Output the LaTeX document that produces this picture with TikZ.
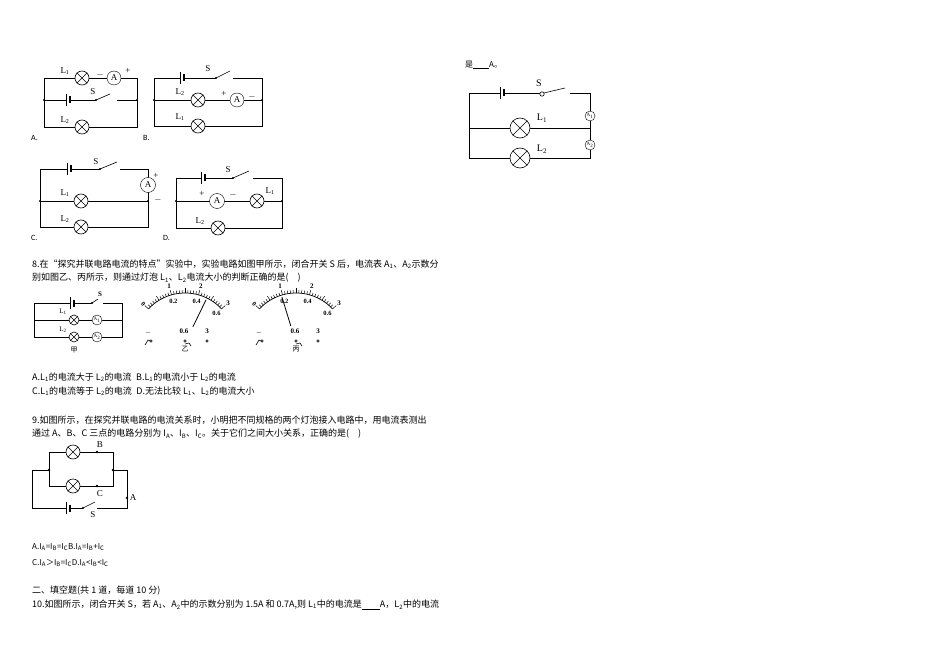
\documentclass[tikz,border=0pt]{standalone}
\usepackage{fontspec}
\setmainfont{Noto Sans CJK SC}
\newfontfamily\ser{Liberation Serif}
\newfontfamily\lat{Carlito}
\tikzset{
 lampst/.style={circle,draw,fill=white,minimum size=#1,inner sep=0pt,line width=0.6pt},
 amst/.style={circle,draw,fill=white,minimum size=#1,inner sep=0pt,font=\ser\fontsize{9}{9}\selectfont},
 wire/.style={line width=0.7pt},
 lab/.style={font=\ser\fontsize{9}{9}\selectfont,inner sep=0pt},
 txt/.style={anchor=west,inner sep=0pt,font=\fontsize{9}{10}\selectfont},
}
\newcommand\lampx[4]{\node[lampst=#4] (#1) at (#2,#3) {};
 \draw[line width=0.6pt] (#1.north west)--(#1.south east) (#1.north east)--(#1.south west);}
\newcommand\batt[3]{\fill[white] (#1-0.5,#2-6) rectangle (#1+4.5,#2+6);
 \draw[line width=0.6pt] (#1,#2-6)--(#1,#2+6); \draw[line width=1.4pt] (#1+4,#2-3.5)--(#1+4,#2+3.5);}
\newcommand\sw[6]{\fill[white] (#1,#2-1) rectangle (#3,#2+1);
 \draw[line width=0.6pt] (#1,#2)--(#4,#5); \fill (#1,#2) circle (1.1);}
\begin{document}
\begin{tikzpicture}[x=1pt,y=-1pt]
\useasboundingbox[fill=white] (0,0) rectangle (950,671);
% ===== Circuit A
\draw[wire] (44,78) rectangle (137,127) (44,100)--(137,100);
\foreach \p in {(44,100),(137,100)} \fill \p circle (1.2);
\batt{66}{100}{}
\sw{96}{100}{117}{110}{94}{}
\lampx{aL1}{82}{78}{14}\node[amst=14] (aA) at (114,78) {A};
\lampx{aL2}{82}{127}{14}
\node[lab] at (65,71) {L\textsubscript{1}};\node[lab] at (100,75) {$-$};\node[lab] at (128,71) {+};
\node[lab] at (93,92) {S};\node[lab] at (65,120) {L\textsubscript{2}};
\node[txt,font=\lat\fontsize{8}{8}\selectfont] at (31,138) {A.};
% ===== Circuit B
\draw[wire] (154,78) rectangle (262,126) (154,100)--(262,100);
\foreach \p in {(154,100),(262,100)} \fill \p circle (1.2);
\batt{180}{78}{}
\sw{216}{78}{233}{230}{71}{}
\lampx{bL2}{198}{100}{14}\node[amst=14] (bA) at (237,100) {A};
\lampx{bL1}{198}{126}{14}
\node[lab] at (208,69) {S};\node[lab] at (180,92) {L\textsubscript{2}};\node[lab] at (180,117) {L\textsubscript{1}};
\node[lab] at (224,94) {+};\node[lab] at (252,97) {$-$};
\node[txt,font=\lat\fontsize{8}{8}\selectfont] at (143,138) {B.};
% ===== Circuit C
\draw[wire] (40,169)--(148,169)--(148,227)--(40,227)--cycle (40,201)--(148,201);
\foreach \p in {(40,201),(148,201)} \fill \p circle (1.2);
\batt{67}{169}{}
\sw{100}{169}{120}{117}{162}{}
\node[amst=15] (cA) at (148,185) {A};
\lampx{cL1}{81}{201}{14}\lampx{cL2}{81}{227}{14}
\node[lab] at (96,162) {S};\node[lab] at (65,193) {L\textsubscript{1}};\node[lab] at (65,219) {L\textsubscript{2}};
\node[lab] at (156,176) {+};\node[lab] at (158,200) {$-$};
\node[txt,font=\lat\fontsize{8}{8}\selectfont] at (31,238) {C.};
% ===== Circuit D
\draw[wire] (176,178) rectangle (282,228) (176,201)--(282,201);
\foreach \p in {(176,201),(282,201)} \fill \p circle (1.2);
\batt{201}{178}{}
\sw{233}{178}{253}{249}{171}{}
\node[amst=15] (dA) at (217,201) {A};
\lampx{dL1}{257}{201}{14}\lampx{dL2}{218}{228}{14}
\node[lab] at (228,170) {S};\node[lab] at (202,194) {+};\node[lab] at (233,195) {$-$};
\node[lab] at (270,191) {L\textsubscript{1}};\node[lab] at (200,221) {L\textsubscript{2}};
\node[txt,font=\lat\fontsize{8}{8}\selectfont] at (163,238) {D.};
% ===== Q8
\node[txt] at (32,264) {8.在“探究并联电路电流的特点”实验中，实验电路如图甲所示，闭合开关 S 后，电流表 A\textsubscript{1}、A\textsubscript{2}示数分};
\node[txt] at (32,278) {别如图乙、丙所示，则通过灯泡 L\textsubscript{1}、L\textsubscript{2}电流大小的判断正确的是(\quad )};
\draw[wire] (34,303)--(122,303)--(122,337)--(34,337)--cycle (34,320)--(122,320);
\batt{70}{303}{}
\sw{92}{303}{103}{98}{299}{}
\node[lab,font=\ser\bfseries\fontsize{7}{7}\selectfont] at (100,294) {S};
\lampx{jL1}{74}{320}{10}\node[amst=10,font=\ser\fontsize{5}{5}\selectfont] at (97,320) {A\textsubscript{1}};
\lampx{jL2}{74}{337}{10}\node[amst=10,font=\ser\fontsize{5}{5}\selectfont] at (97,337) {A\textsubscript{2}};
\node[lab,font=\ser\fontsize{7}{7}\selectfont] at (63,312) {L\textsubscript{1}};
\node[lab,font=\ser\fontsize{7}{7}\selectfont] at (63,330) {L\textsubscript{2}};
\node[lab,font=\fontsize{7}{7}\selectfont] at (74,350) {甲};
\foreach \cx/\ang/\nm in {185/-64/乙,296/-107/丙}{
 \begin{scope}[shift={(\cx,343)}]
 \draw[line width=0.7pt] (-137:50) arc[start angle=-137,end angle=-43,radius=50];
 \foreach \i in {0,...,30}{\pgfmathsetmacro\a{-137+\i*94/30}
   \pgfmathsetmacro\l{mod(\i,5)==0?5:3}
   \draw[line width=0.5pt] (\a:50)--(\a:50+\l);}
 \foreach \v/\i in {1/10,2/20,3/30}{\pgfmathsetmacro\a{-137+\i*94/30}\node[lab,font=\ser\bfseries\fontsize{7}{7}\selectfont] at (\a:59) {\v};}
 \foreach \v/\i in {0.2/10,0.4/20,0.6/30}{\pgfmathsetmacro\a{-137+\i*94/30}\node[lab,font=\ser\bfseries\fontsize{6.5}{7}\selectfont] at (\a:43) {\v};}
 \node[lab,font=\ser\bfseries\fontsize{6.5}{7}\selectfont,rotate=-45] at (-137:57) {0};
 \draw[line width=0.8pt] (\ang:18)--(\ang:48);
 \node[lab,font=\ser\bfseries\fontsize{7}{7}\selectfont] at (-37,-10) {$-$};
 \node[lab,font=\ser\bfseries\fontsize{7}{7}\selectfont] at (-1,-12) {0.6};
 \node[lab,font=\ser\bfseries\fontsize{7}{7}\selectfont] at (22,-12) {3};
 \foreach \tx in {-34,0,22}{\draw[line width=0.6pt] (\tx,-2) circle (1.3);}
 \draw[line width=0.6pt] (-40,2)--(-37,-3)--(-35,-2);
 \draw[line width=0.6pt] (0,1)--(4,0)--(6,3);
 \node[lab,font=\fontsize{7}{7}\selectfont] at (0,6) {\nm};
 \end{scope}}
\node[txt] at (32,377) {A.L\textsubscript{1}的电流大于 L\textsubscript{2}的电流\enspace B.L\textsubscript{1}的电流小于 L\textsubscript{2}的电流};
\node[txt] at (32,391) {C.L\textsubscript{1}的电流等于 L\textsubscript{2}的电流\enspace D.无法比较 L\textsubscript{1}、L\textsubscript{2}的电流大小};
% ===== Q9
\node[txt] at (32,420) {9.如图所示，在探究并联电路的电流关系时，小明把不同规格的两个灯泡接入电路中，用电流表测出};
\node[txt] at (32,434) {通过 A、B、C 三点的电路分别为 I\textsubscript{A}、I\textsubscript{B}、I\textsubscript{C}。关于它们之间大小关系，正确的是(\quad )};
\draw[wire] (49,452) rectangle (113,486) (49,470)--(32,470)--(32,508)--(127,508)--(127,470)--(113,470);
\foreach \p in {(49,470),(113,470),(97,452),(97,486),(127,498)} \fill \p circle (1.3);
\batt{66}{508}{}
\sw{83}{508}{97}{95}{502}{}
\lampx{qL1}{73}{452}{14}\lampx{qL2}{73}{486}{14}
\node[lab] at (100,445) {B};\node[lab] at (100,494) {C};\node[lab] at (133,498) {A};\node[lab] at (93,515) {S};
\node[txt,font=\fontsize{8}{10}\selectfont] at (32,547) {A.I\textsubscript{A}=I\textsubscript{B}=I\textsubscript{C}B.I\textsubscript{A}=I\textsubscript{B}+I\textsubscript{C}};
\node[txt,font=\fontsize{8}{10}\selectfont] at (32,563) {C.I\textsubscript{A}＞I\textsubscript{B}=I\textsubscript{C}D.I\textsubscript{A}<I\textsubscript{B}<I\textsubscript{C}};
\node[txt] at (32,591) {二、填空题(共 1 道，每道 10 分)};
\node[txt] at (32,605) {10.如图所示，闭合开关 S，若 A\textsubscript{1}、A\textsubscript{2}中的示数分别为 1.5A 和 0.7A,则 L\textsubscript{1}中的电流是\underline{\hspace{2em}}A，L\textsubscript{2}中的电流};
\node[txt,font=\fontsize{8}{10}\selectfont] at (465,65) {是\underline{\hspace{2em}}A。};
% ===== right circuit
\draw[wire] (469,93) rectangle (590,158) (469,128)--(590,128);
\batt{500}{93}{}
\fill[white] (542,92) rectangle (570,95);
\draw[line width=0.6pt] (544,93)--(565,88);
\draw[line width=0.6pt,fill=white] (542,94) circle (2.2);
\node[amst=10,font=\ser\fontsize{5}{5}\selectfont] (rA1) at (590,116) {A\textsubscript{1}};
\node[amst=10,font=\ser\fontsize{5}{5}\selectfont] (rA2) at (590,145) {A\textsubscript{2}};
\lampx{rL1}{520}{128}{20}\lampx{rL2}{520}{158}{20}
\node[lab,font=\ser\fontsize{10}{10}\selectfont] at (539,83) {S};
\node[lab,font=\ser\fontsize{10}{10}\selectfont] at (542,118) {L\textsubscript{1}};
\node[lab,font=\ser\fontsize{10}{10}\selectfont] at (542,149) {L\textsubscript{2}};
\end{tikzpicture}
\end{document}
